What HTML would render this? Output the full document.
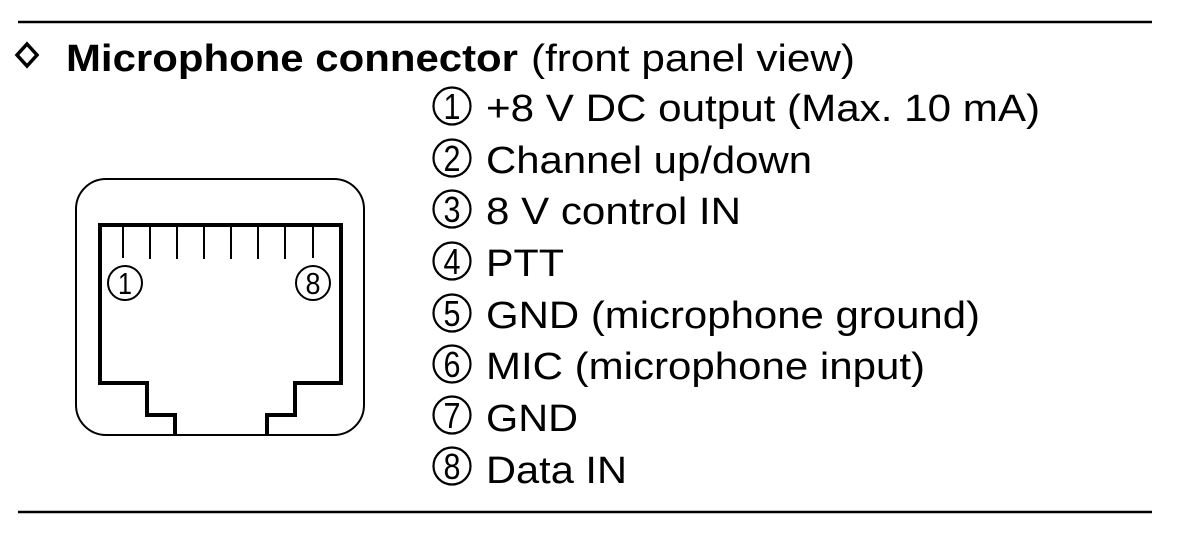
<!DOCTYPE html>
<html><head><style>
html,body{margin:0;padding:0;background:#fff;}
svg{display:block;}
text{font-family:"Liberation Sans",Arial,sans-serif;fill:#000;}
</style></head><body>
<svg width="1180" height="534" viewBox="0 0 1180 534" xmlns="http://www.w3.org/2000/svg">
<line x1="18" y1="22" x2="1152" y2="22" stroke="#000" stroke-width="2.5"/>
<line x1="18" y1="512" x2="1152" y2="512" stroke="#000" stroke-width="2.5"/>
<path d="M27 44 L37 55 L27 66 L17 55 Z" fill="none" stroke="#000" stroke-width="3.5"/>
<text x="66" y="71" font-size="38" font-weight="bold" textLength="452" lengthAdjust="spacingAndGlyphs">Microphone connector</text>
<text x="531" y="71" font-size="38" textLength="324" lengthAdjust="spacingAndGlyphs">(front panel view)</text>

<g font-size="38">
<g stroke="#000" stroke-width="2.2" fill="none">
<circle cx="452" cy="106" r="18.5"/><circle cx="452" cy="158" r="18.5"/><circle cx="452" cy="209" r="18.5"/><circle cx="452" cy="261" r="18.5"/>
<circle cx="452" cy="313" r="18.5"/><circle cx="452" cy="364" r="18.5"/><circle cx="452" cy="415" r="18.5"/><circle cx="452" cy="466" r="18.5"/>
</g>
<g font-size="36" text-anchor="middle">
<text x="452" y="119" textLength="17" lengthAdjust="spacingAndGlyphs">1</text>
<text x="452" y="171" textLength="17" lengthAdjust="spacingAndGlyphs">2</text>
<text x="452" y="222" textLength="17" lengthAdjust="spacingAndGlyphs">3</text>
<text x="452" y="274" textLength="17" lengthAdjust="spacingAndGlyphs">4</text>
<text x="452" y="326" textLength="17" lengthAdjust="spacingAndGlyphs">5</text>
<text x="452" y="377" textLength="17" lengthAdjust="spacingAndGlyphs">6</text>
<text x="452" y="428" textLength="17" lengthAdjust="spacingAndGlyphs">7</text>
<text x="452" y="479" textLength="17" lengthAdjust="spacingAndGlyphs">8</text>
</g>
<text x="486" y="121" textLength="554" lengthAdjust="spacingAndGlyphs">+8 V DC output (Max. 10 mA)</text>
<text x="486" y="173" textLength="326" lengthAdjust="spacingAndGlyphs">Channel up/down</text>
<text x="486" y="224" textLength="255" lengthAdjust="spacingAndGlyphs">8 V control IN</text>
<text x="486" y="276" textLength="78" lengthAdjust="spacingAndGlyphs">PTT</text>
<text x="486" y="328" textLength="494" lengthAdjust="spacingAndGlyphs">GND (microphone ground)</text>
<text x="486" y="379" textLength="439" lengthAdjust="spacingAndGlyphs">MIC (microphone input)</text>
<text x="486" y="431" textLength="92" lengthAdjust="spacingAndGlyphs">GND</text>
<text x="486" y="483" textLength="141" lengthAdjust="spacingAndGlyphs">Data IN</text>
</g>

<rect x="76" y="179" width="288" height="256" rx="30" fill="none" stroke="#000" stroke-width="2"/>
<path d="M175 435 V415 H147 V383 H100 V225 H341 V383 H295 V415 H267 V435" fill="none" stroke="#000" stroke-width="4"/>
<g stroke="#000" stroke-width="2">
<line x1="123" y1="225" x2="123" y2="258"/><line x1="150" y1="225" x2="150" y2="259"/>
<line x1="177" y1="225" x2="177" y2="259"/><line x1="204" y1="225" x2="204" y2="259"/>
<line x1="231" y1="225" x2="231" y2="259"/><line x1="258" y1="225" x2="258" y2="259"/>
<line x1="285" y1="225" x2="285" y2="259"/><line x1="313" y1="225" x2="313" y2="258"/>
</g>
<circle cx="125" cy="283" r="17" fill="none" stroke="#000" stroke-width="2"/>
<circle cx="313" cy="283" r="17" fill="none" stroke="#000" stroke-width="2"/>
<text x="125" y="294" font-size="31" text-anchor="middle" textLength="14" lengthAdjust="spacingAndGlyphs">1</text>
<text x="313" y="294" font-size="31" text-anchor="middle" textLength="15" lengthAdjust="spacingAndGlyphs">8</text>
</svg>
</body></html>
